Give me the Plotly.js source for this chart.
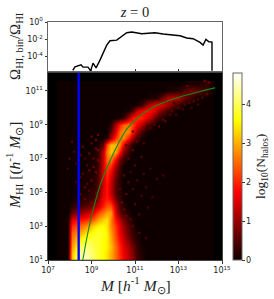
<!DOCTYPE html>
<html><head><meta charset="utf-8">
<script src="https://cdn.plot.ly/plotly-3.0.0.min.js"></script>
<style>html,body{margin:0;padding:0;background:#fff}#c{width:274px;height:299px}</style></head>
<body><div id="c"></div>
<script>
// log10 halo mass bin centres
var massBins = [7.5,7.7,7.9,8.1,8.3,8.5,8.7,8.9,9.1,9.3,9.5,9.7,9.9,10.1,10.3,10.5,10.7,10.9,11.1,11.3,11.5,11.7,11.9,12.1,12.3,12.5,12.7,12.9,13.1,13.3,13.5,13.7,13.9,14.1,14.3,14.5];
// log10 HI mass bin centres
var hiBins = [1.0,1.4,1.8,2.2,2.6,3.0,3.4,3.8,4.2,4.6,5.0,5.4,5.8,6.2,6.6,7.0,7.4,7.8,8.2,8.6,9.0,9.4,9.8,10.2,10.6,11.0,11.4];
// log10(N_halos), one row per HI bin; omitted trailing bins are empty
var logCounts = [
[0,0,0,3.1,4.0,4.4,4.5,4.3,4.0,3.8,3.6,3.4,3.0,2.5,2.1,1.7,1.3,.9,.4,.2],
[0,0,0,3.0,3.8,4.3,4.4,4.2,4.0,3.8,3.6,3.4,3.0,2.5,2.0,1.6,1.2,.8,.3,.1],
[0,0,0,2.8,3.5,4.0,4.2,4.1,3.9,3.8,3.6,3.5,3.1,2.5,2.0,1.5,1.1,.7,.3,.1],
[0,0,0,2.6,3.1,3.6,3.8,3.9,3.8,3.8,3.6,3.5,3.0,2.3,1.8,1.3,.8,.4,.2],
[0,0,0,2.4,2.7,3.0,3.3,3.5,3.7,3.8,3.7,3.5,2.9,2.2,1.6,1.1,.6,.3,.1],
[0,0,.1,2.0,2.3,2.5,2.7,3.0,3.3,3.5,3.6,3.4,2.7,2.1,1.5,1.0,.5,.2],
[0,0,.1,1.5,1.8,1.9,2.0,2.2,2.5,2.9,3.2,3.4,2.7,1.8,1.2,.7,.3,.1],
[0,0,0,.6,.9,1.0,1.2,1.4,1.7,2.2,2.6,2.9,2.9,1.4,.6,.3,.1],
[0,0,0,.2,.3,.4,.5,.6,.9,1.3,1.9,2.3,2.3,1.2,.4,.2],
[0,0,0,0,.1,.2,.2,.3,.4,.9,1.6,2.0,1.6,.7,.3],
[0,0,0,0,0,.1,.1,.2,.3,.6,1.5,1.9,1.3,.5,.2],
[0,0,0,0,0,.1,.1,.1,.2,.5,1.4,1.9,1.3,.5,.2],
[0,0,0,0,0,0,.1,.1,.2,.4,1.4,2.0,1.4,.6,.2],
[0,0,0,0,0,0,.1,.1,.1,.4,1.4,2.1,1.7,.8,.3],
[0,0,0,0,0,0,0,.1,.1,.3,1.4,2.3,2.1,1.1,.4],
[0,0,0,0,0,0,0,.1,.1,.3,1.3,2.5,2.7,1.8,.8,.3],
[0,0,0,0,0,0,0,0,.1,.2,1.2,2.6,3.2,2.9,1.9,.8,.3],
[0,0,0,0,0,0,0,0,0,.1,.5,2.2,3.1,3.1,2.6,1.5,.6,.1],
[0,0,0,0,0,0,0,0,0,0,0,.2,1.1,2.1,2.7,2.7,1.9,1.0,.4,.1],
[0,0,0,0,0,0,0,0,0,0,0,0,.6,1.6,2.5,2.8,2.7,1.9,1.0,.4,.1],
[0,0,0,0,0,0,0,0,0,0,0,0,.2,1.2,2.0,2.5,2.6,2.2,1.7,1.2,.6,.3],
[0,0,0,0,0,0,0,0,0,0,0,0,0,0,.1,.3,1.2,1.9,2.1,2.0,1.7,1.2,.7,.3,.1],
[0,0,0,0,0,0,0,0,0,0,0,0,0,0,0,0,.1,.5,1.3,1.7,1.9,1.8,1.5,1.0,.6,.3,.2],
[0,0,0,0,0,0,0,0,0,0,0,0,0,0,0,0,0,0,.1,.3,.8,1.3,1.6,1.6,1.4,1.1,.7,.4,.2],
[0,0,0,0,0,0,0,0,0,0,0,0,0,0,0,0,0,0,0,0,0,.1,.1,.3,.8,1.2,1.3,1.2,1.0,.7,.4,.2],
[0,0,0,0,0,0,0,0,0,0,0,0,0,0,0,0,0,0,0,0,0,0,0,0,0,.1,.1,.2,.3,.5,.7,.7,.6,.4,.3,.1],
[0,0,0,0,0,0,0,0,0,0,0,0,0,0,0,0,0,0,0,0,0,0,0,0,0,0,0,0,0,0,.1,.1,.1,.2,.3,.1]
];
// isolated low-count bins away from the main band
var specMass = [8.5,8.7,8.3,8.9,8.6,9.0,8.8,9.2,8.4,9.1,8.9,9.3,8.7,9.0,9.2,8.5,8.8,9.1,9.3,8.2,8.6,9.0,8.9,9.2,8.1,8.0,7.9,8.3,8.5,8.7,9.0,9.3,9.2,
 10.4,10.6,10.3,10.7,10.5,10.9,10.4,10.8,11.1,10.6,11.0,11.3,10.8,11.5,10.5,10.9,11.2,11.6,11.8,11.0,11.4,10.7,10.9,11.3,11.7,12.0,11.2,11.5,10.6,11.1,11.4,12.3,
 10.9,11.2,11.4,11.7,11.9,12.1,12.4,12.6,12.3,12.7,13.0,13.3,12.9,13.2,13.5,13.7,13.9,14.1,14.3,14.4,13.6,13.9,12.8,13.4,14.2];
var specHI = [4.9,5.3,5.6,5.1,6.1,5.7,6.6,6.2,6.9,7.0,7.3,7.5,4.6,4.4,5.0,5.9,5.5,6.5,6.9,7.4,7.7,7.9,6.3,8.1,8.0,7.0,6.4,6.7,7.2,7.0,8.3,8.4,7.6,
 4.4,4.9,5.2,5.6,6.0,5.2,6.7,6.2,5.7,3.6,4.3,4.8,3.4,5.3,4.0,3.0,3.7,4.1,4.7,6.6,6.1,7.0,7.5,7.1,6.4,5.8,2.6,2.3,7.8,8.0,7.9,6.0,
 8.6,8.3,8.6,8.8,9.0,8.9,9.2,9.6,9.3,9.8,10.0,10.2,9.6,9.9,10.3,10.4,10.5,10.6,10.8,11.5,10.0,10.2,10.3,11.3,11.6];
var specVal = [.5,.6,.4,.6,.5,.7,.5,.7,.4,.6,.7,.8,.6,.7,.6,.4,.5,.7,.8,.5,.6,.6,.7,.7,.5,.5,.4,.4,.5,.4,.6,.7,.7,
 .7,.6,.6,.5,.5,.4,.5,.4,.4,.7,.5,.5,.6,.4,.6,.5,.5,.4,.4,.5,.4,.6,.5,.5,.4,.4,.5,.4,.6,.6,.5,.4,
 .6,.5,.5,.5,.5,.6,.6,.5,.6,.5,.5,.5,.4,.4,.5,.5,.5,.5,.6,.7,.4,.4,.4,.6,.7];
// mean relation (log10 M, log10 M_HI)
var fitMass = [8.6,8.93,9.39,9.76,10.2,10.63,11.2,11.92,12.5,13.2,14.0,14.68];
var fitHI = [1.0,3.2,5.4,6.6,7.8,8.76,9.5,10.1,10.4,10.7,10.97,11.18];
// mass resolution limit
var limitMass = [8.41,8.41];
var limitHI = [1,12.06];
// HI mass fraction per bin
var fracMass = [8.14,8.24,8.52,8.61,8.84,8.96,9.07,9.21,9.39,9.70,9.85,10.16,10.62,10.85,11.31,11.92,12.29,12.84,13.07,13.38,13.67,13.99,14.13,14.26,14.40,14.54,14.54];
var fracLog = [-5.68,-5.26,-5.02,-5.29,-5.29,-5.73,-4.82,-5.38,-4.47,-2.71,-2.2,-2.12,-1.26,-1.18,-1.38,-1.26,-1.41,-1.53,-1.61,-1.88,-1.96,-2.39,-2.71,-2.04,-2.32,-2.35,-5.73];
var massTicks = [7,9,11,13,15];
var massTickText = ['10<sup>7</sup>','10<sup>9</sup>','10<sup>11</sup>','10<sup>13</sup>','10<sup>15</sup>'];
var hiTicks = [1,3,5,7,9,11];
var hiTickText = ['10<sup>1</sup>','10<sup>3</sup>','10<sup>5</sup>','10<sup>7</sup>','10<sup>9</sup>','10<sup>11</sup>'];
var fracTicks = [-4,-2,0];
var fracTickText = ['10<sup>-4</sup>','10<sup>-2</sup>','10<sup>0</sup>'];

var zFull = logCounts.map(function(r){return r.concat(new Array(massBins.length-r.length).fill(0));});
var sans = {family:'DejaVu Sans',size:8,color:'#222'};
var serif = 'Liberation Serif';
var hot = [[0,'#0e0000'],[0.365,'#ff0000'],[0.746,'#ffff00'],[1,'#ffffff']];
var traces = [
 {type:'heatmap',x:massBins,y:hiBins,z:zFull,xaxis:'x',yaxis:'y',zmin:0,zmax:4.8,zsmooth:'best',hoverinfo:'skip',
  colorscale:hot,
  colorbar:{x:1.063,xanchor:'left',xpad:0,ypad:0,y:0,yanchor:'bottom',len:0.7857,thickness:9,outlinecolor:'#666',outlinewidth:1,
    tickvals:[0,1,2,3,4],ticks:'outside',ticklen:2.5,tickcolor:'#333',tickfont:sans}},
 {type:'scatter',mode:'markers',x:specMass,y:specHI,xaxis:'x',yaxis:'y',hoverinfo:'skip',
  marker:{symbol:'square',size:2.2,line:{width:0},color:specVal,cmin:0,cmax:4.8,colorscale:hot,showscale:false}},
 {type:'scatter',mode:'lines',x:fitMass,y:fitHI,xaxis:'x',yaxis:'y',line:{color:'#158a15',width:1.1,shape:'spline'},hoverinfo:'skip'},
 {type:'scatter',mode:'lines',x:limitMass,y:limitHI,xaxis:'x',yaxis:'y',line:{color:'#0000ff',width:2.4},hoverinfo:'skip'},
 {type:'scatter',mode:'lines',x:fracMass,y:fracLog,xaxis:'x2',yaxis:'y2',line:{color:'#000',width:1.4},hoverinfo:'skip'}
];
function note(text,px,py,size,rot){
 return {text:text,xref:'paper',yref:'paper',x:(px-48)/174,y:(260-py)/238,xanchor:'center',yanchor:'middle',showarrow:false,textangle:rot,font:{family:serif,size:size,color:'#222'}};
}
var layout = {
 width:274,height:299,showlegend:false,paper_bgcolor:'#fff',plot_bgcolor:'#fff',
 margin:{l:48,r:52,t:22,b:39},
 title:{text:'<i>z</i> = 0',x:135/274,xanchor:'center',y:1-12/299,yanchor:'middle',font:{family:serif,size:14.5,color:'#222'}},
 xaxis:{domain:[0,1],range:[7,15],tickvals:massTicks,ticktext:massTickText,ticks:'outside',ticklen:2.5,tickcolor:'#333',tickfont:sans,showgrid:false,zeroline:false,showline:true,linecolor:'#444',linewidth:1,mirror:true},
 yaxis:{domain:[0,0.7857],range:[1,12.06],tickvals:hiTicks,ticktext:hiTickText,ticks:'outside',ticklen:2.5,tickcolor:'#333',tickfont:sans,showgrid:false,zeroline:false,showline:true,linecolor:'#444',linewidth:1,mirror:true},
 xaxis2:{domain:[0,1],anchor:'y2',range:[7,15],tickvals:massTicks,ticktext:massTicks.map(function(){return '';}),ticks:'inside',ticklen:2,tickcolor:'#333',showgrid:false,zeroline:false,showline:true,linecolor:'#666',linewidth:1,mirror:true},
 yaxis2:{domain:[0.794,1],anchor:'x2',range:[-5.75,0],tickvals:fracTicks,ticktext:fracTickText,ticks:'outside',ticklen:2.5,tickcolor:'#333',tickfont:sans,showgrid:false,zeroline:false,showline:true,linecolor:'#666',linewidth:1,mirror:true},
 annotations:[
  note('<i>M</i> [<i>h</i><sup>-1</sup> <i>M</i><sub>⊙</sub>]',135,285,15.5,0),
  note('<i>M</i><sub>HI</sub> [(<i>h</i><sup>-1</sup> <i>M</i><sub>⊙</sub>]',14,166,15.5,-90),
  note('Ω<sub>HI, bin</sub>/Ω<sub>HI</sub>',16,46,15,-90),
  note('log<sub>10</sub>(N<sub>halos</sub>)',261,167,13.5,-90)
 ],
 shapes:[{type:'rect',xref:'x',yref:'y',x0:7,x1:15,y0:1,y1:12.06,fillcolor:'#000',line:{width:0},layer:'below'}]
};
Plotly.newPlot('c',traces,layout,{displayModeBar:false,staticPlot:true});
</script></body></html>
